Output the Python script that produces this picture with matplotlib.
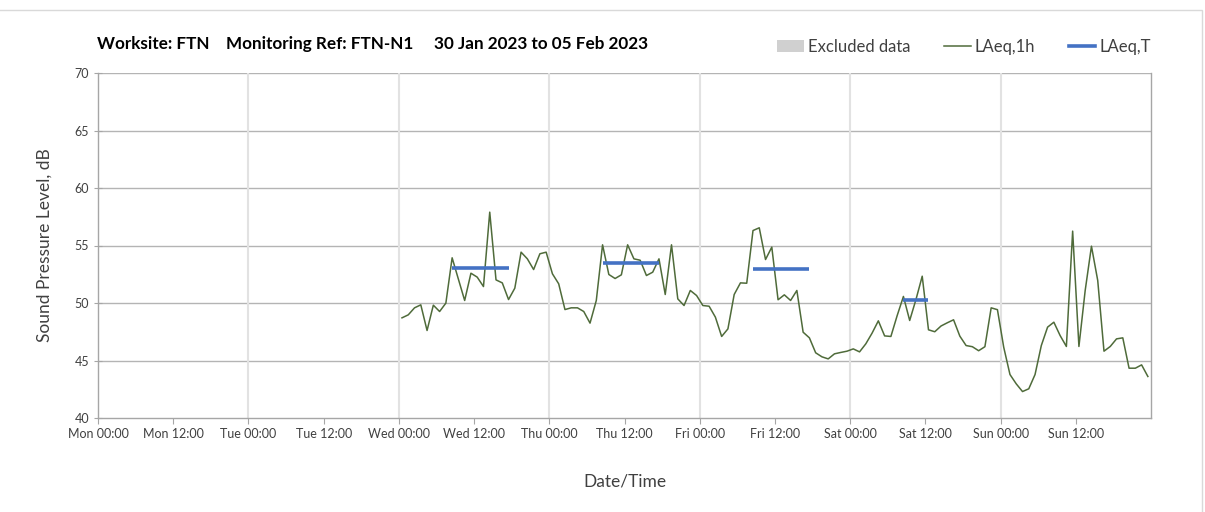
"""
Noise monitoring chart - FTN-N1, 30 Jan 2023 to 05 Feb 2023
"""

import numpy as np
import pandas as pd
import matplotlib
matplotlib.use('Agg')
import matplotlib.pyplot as plt
import matplotlib.dates as mdates
from matplotlib.patches import Patch, Rectangle
from matplotlib.lines import Line2D

#---------------------------------------------------------------------------------------------------
# Input Data
#---------------------------------------------------------------------------------------------------

title = 'Worksite: FTN    Monitoring Ref: FTN-N1     30 Jan 2023 to 05 Feb 2023'

period_start = pd.Timestamp('2023-01-30 00:00')
period_end = pd.Timestamp('2023-02-06 00:00')

# Hourly LAeq,1h (plotted at mid-hour), starting Wed 01 Feb 00:30
laeq_1h_start = pd.Timestamp('2023-02-01 00:30')
laeq_1h = [48.71, 48.97, 49.58, 49.84, 47.61, 49.81, 49.26, 49.99, 53.93, 52.07,
           50.22, 52.59, 52.25, 51.43, 57.90, 52.01, 51.75, 50.30, 51.29, 54.42,
           53.84, 52.91, 54.28, 54.42, 52.54, 51.67, 49.43, 49.58, 49.58, 49.26,
           48.25, 50.22, 55.06, 52.48, 52.13, 52.45, 55.06, 53.84, 53.72, 52.39,
           52.68, 53.84, 50.74, 55.06, 50.36, 49.78, 51.09, 50.65, 49.78, 49.72,
           48.77, 47.09, 47.75, 50.74, 51.75, 51.72, 56.30, 56.54, 53.78, 54.86,
           50.28, 50.71, 50.22, 51.09, 47.46, 46.97, 45.67, 45.32, 45.14, 45.58,
           45.70, 45.81, 46.01, 45.75, 46.45, 47.38, 48.45, 47.14, 47.09, 48.90,
           50.57, 48.48, 50.30, 52.33, 47.67, 47.50, 48.00, 48.28, 48.54, 47.12,
           46.30, 46.20, 45.85, 46.20, 49.58, 49.42, 46.16, 43.78, 42.97, 42.30,
           42.54, 43.78, 46.30, 47.90, 48.33, 47.17, 46.22, 56.25, 46.22, 51.09,
           54.94, 51.96, 45.81, 46.22, 46.88, 46.97, 44.33, 44.33, 44.62, 43.61]

# LAeq,T over each assessment period
laeq_t_start = ['2023-02-01 08:30', '2023-02-02 08:30', '2023-02-03 08:30', '2023-02-04 08:30']
laeq_t_end = ['2023-02-01 17:30', '2023-02-02 17:30', '2023-02-03 17:30', '2023-02-04 12:30']
laeq_t = [53.06, 53.49, 52.97, 50.22]

#---------------------------------------------------------------------------------------------------
# Plot
#---------------------------------------------------------------------------------------------------

plt.rcParams['font.family'] = ['Lato', 'DejaVu Sans']

green = '#4f6b3a'
blue = '#4472c4'
grey_txt = '#404040'

fig = plt.figure(figsize=(12.05, 5.12), dpi=100)
ax = fig.add_axes([98/1205, 1 - 418/512, (1151 - 98)/1205, (418 - 73)/512])

# outer chart border (only top and right edges fall inside the image)
fig.patches.append(Rectangle((-0.01, -0.01), 0.01 + 1202/1205, 0.01 + 502/512,
                             transform=fig.transFigure, fill=False, edgecolor='#d9d9d9', lw=1))

times = pd.date_range(laeq_1h_start, periods=len(laeq_1h), freq='h')
ax.plot(times, laeq_1h, c=green, lw=1.1, zorder=3)

for s, e, v in zip(laeq_t_start, laeq_t_end, laeq_t):
    ax.plot([pd.Timestamp(s), pd.Timestamp(e)], [v, v], c=blue, lw=2.6, zorder=4,
            solid_capstyle='butt')

ax.set_xlim(period_start, period_end)
ax.set_ylim(40, 70)
ax.set_yticks(np.arange(40, 71, 5))

major = pd.date_range(period_start, period_end - pd.Timedelta(hours=12), freq='12h')
ax.set_xticks(major)
ax.xaxis.set_major_formatter(mdates.DateFormatter('%a %H:%M'))

# grid lines
for y in range(45, 71, 5):
    ax.axhline(y, c='#b4b4b4', lw=1, zorder=1)
for d in pd.date_range(period_start + pd.Timedelta(days=1), period_end - pd.Timedelta(days=1), freq='D'):
    ax.axvline(d, c='#e2e2e2', lw=1.5, zorder=1)

ax.spines['top'].set_visible(False)
for side in ['left', 'bottom', 'right']:
    ax.spines[side].set_color('#a6a6a6')
    ax.spines[side].set_linewidth(1)

ax.tick_params(axis='both', colors='#a6a6a6', labelcolor=grey_txt, labelsize=9, length=4)
ax.tick_params(axis='y', direction='inout', length=6)

ax.set_ylabel('Sound Pressure Level, dB', fontsize=12.5, color=grey_txt, labelpad=16)
ax.set_xlabel('Date/Time', fontsize=12.5, color=grey_txt, labelpad=24)

fig.text(97/1205, 1 - 44/512, title, fontsize=12.3, fontweight='bold', color='black',
         va='center', ha='left')

handles = [Patch(facecolor='#d0d0d0', edgecolor='none', label='Excluded data'),
           Line2D([0], [0], c=green, lw=1.1, label='LAeq,1h'),
           Line2D([0], [0], c=blue, lw=2.6, label='LAeq,T')]
fig.legend(handles=handles, loc='center right', bbox_to_anchor=(1166/1205, 1 - 47/512), ncol=3,
           frameon=False, fontsize=12, handlelength=1.6, handletextpad=0.25, columnspacing=2.0,
           labelcolor=grey_txt)

fig.savefig('out.png', dpi=100)
